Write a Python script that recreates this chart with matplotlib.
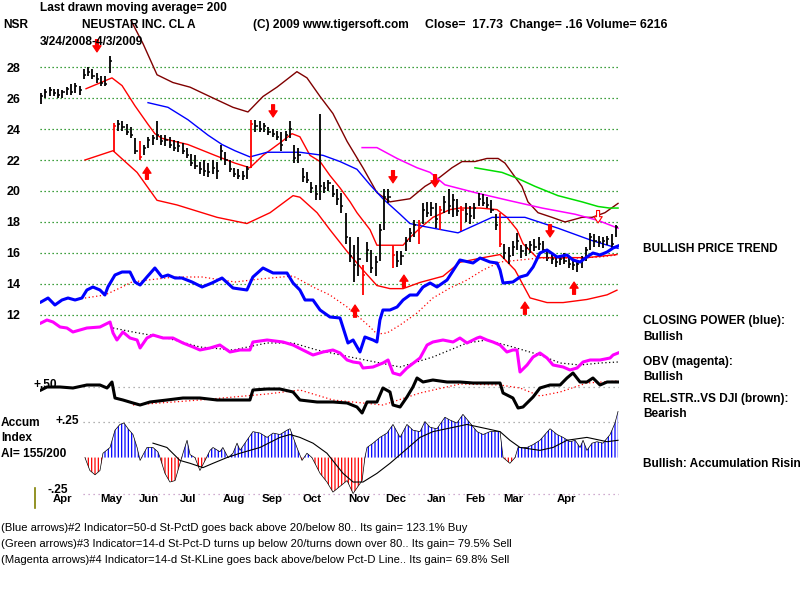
import matplotlib
matplotlib.use('Agg')
import matplotlib.pyplot as plt
import numpy as np
from matplotlib.lines import Line2D

plt.rcParams['font.family'] = ['Liberation Sans', 'DejaVu Sans']
plt.rcParams['hatch.linewidth'] = 0.9

# ---- price bars: one bar every second trading day starting 3/24/2008 ----
bar_day = list(range(0, 270, 2))
bar_high = [26.3, 26.6, 26.7, 26.6, 26.6, 26.5, 26.7, 26.9, 27.0, 26.8,
            27.9, 28.0, 27.9, 27.6, 27.4, 27.4, 28.7, 24.4, 24.6, 24.5,
            24.3, 24.1, 23.4, 23.2, 23.0, 23.5, 23.6, 24.5, 23.6, 23.6,
            23.5, 23.3, 23.2, 23.1, 22.8, 22.4, 22.3, 21.9, 22.0, 21.8,
            22.0, 21.9, 23.0, 22.5, 22.0, 21.5, 21.4, 21.3, 21.6, 24.6,
            24.6, 24.5, 24.4, 24.1, 24.0, 23.9, 23.8, 23.9, 24.5, 23.0,
            22.8, 21.5, 21.2, 20.6, 20.4, 25.0, 20.6, 20.7, 20.4, 20.1,
            19.9, 18.6, 17.0, 16.5, 17.0, 15.2, 16.7, 16.2, 15.8, 17.9,
            20.1, 20.1, 16.5, 16.1, 16.1, 17.0, 17.6, 18.1, 18.1, 19.2,
            19.3, 19.3, 19.2, 19.0, 19.7, 20.1, 19.8, 19.5, 19.0, 19.2,
            19.0, 19.2, 19.9, 19.8, 19.6, 19.4, 18.5, 18.6, 16.6, 16.4,
            16.8, 17.3, 16.5, 16.6, 16.8, 16.9, 17.0, 16.8, 16.2, 16.0,
            15.9, 15.9, 16.0, 15.8, 15.6, 15.5, 15.8, 16.4, 17.3, 17.2,
            17.1, 17.0, 17.1, 17.2, 17.8]
bar_low = [25.6, 26.0, 26.1, 26.1, 26.0, 26.0, 26.2, 26.2, 26.3, 26.2,
           27.2, 27.4, 27.2, 27.0, 26.8, 26.8, 27.6, 22.5, 23.9, 23.9,
           23.6, 23.4, 22.4, 22.0, 22.3, 22.8, 23.0, 23.3, 23.0, 22.9,
           22.8, 22.6, 22.5, 22.4, 22.1, 21.6, 21.4, 21.1, 21.0, 20.9,
           21.1, 20.8, 22.0, 21.7, 21.2, 20.9, 20.8, 20.7, 20.8, 21.5,
           23.8, 23.8, 23.8, 23.6, 23.5, 23.3, 22.6, 23.2, 23.4, 21.8,
           21.8, 20.6, 20.5, 19.9, 19.4, 19.4, 19.9, 20.0, 19.6, 19.1,
           18.6, 16.6, 15.4, 14.1, 14.5, 13.3, 15.4, 14.7, 14.5, 15.5,
           17.5, 19.2, 15.0, 15.1, 15.2, 16.1, 16.7, 17.0, 16.6, 17.9,
           18.3, 18.4, 17.6, 17.5, 18.6, 18.5, 18.3, 18.4, 17.4, 18.0,
           17.9, 18.2, 19.0, 19.0, 18.9, 18.6, 17.5, 16.4, 15.6, 15.3,
           15.8, 16.2, 15.7, 15.8, 16.0, 16.1, 16.2, 16.0, 15.5, 15.3,
           15.1, 15.2, 15.3, 15.0, 14.9, 14.8, 15.0, 15.5, 16.2, 16.4,
           16.4, 16.3, 16.5, 16.3, 17.0]
bar_close = [26.1, 26.4, 26.5, 26.3, 26.2, 26.4, 26.6, 26.4, 26.8, 26.5,
             27.5, 27.7, 27.4, 27.2, 27.0, 26.9, 28.4, 24.2, 24.3, 24.1,
             23.8, 23.6, 22.6, 22.2, 22.8, 23.3, 23.4, 23.6, 23.2, 23.3,
             23.0, 22.8, 22.9, 22.6, 22.3, 21.8, 21.6, 21.4, 21.3, 21.2,
             21.5, 21.3, 22.6, 22.0, 21.4, 21.1, 21.0, 21.0, 21.4, 24.3,
             24.2, 24.0, 24.2, 23.8, 23.7, 23.5, 23.0, 23.6, 24.0, 22.1,
             22.3, 20.9, 20.7, 20.2, 19.8, 20.3, 20.2, 20.5, 19.8, 19.5,
             19.0, 17.0, 15.8, 15.2, 15.6, 14.6, 16.2, 15.0, 15.4, 17.5,
             19.6, 19.6, 15.9, 15.5, 15.8, 16.8, 17.3, 17.8, 17.9, 18.8,
             18.6, 18.9, 18.2, 18.8, 19.3, 19.0, 19.4, 18.7, 18.8, 18.5,
             18.4, 18.9, 19.5, 19.2, 19.1, 18.8, 17.8, 16.6, 16.0, 15.8,
             16.4, 16.8, 16.1, 16.3, 16.5, 16.4, 16.6, 16.2, 15.7, 15.6,
             15.4, 15.6, 15.5, 15.3, 15.2, 15.3, 15.6, 16.2, 17.0, 16.8,
             16.7, 16.8, 16.9, 16.6, 17.7]
red_bar_days = [34, 46, 98, 150, 164, 176, 186, 196, 214]

# ---- price overlays ----
ma_day = [21.0, 33.1, 37.8, 43.8, 49.9, 53.1, 56.4, 68.5, 81.1, 90.4,
          97.4, 103.5, 111.4, 117.0, 120.7, 125.4, 130.1, 134.7, 139.4, 144.1,
          147.3, 153.4, 156.6, 162.7, 168.8, 172.0, 176.7, 182.7, 190.7, 195.3,
          204.7, 212.6, 217.2, 221.9, 224.7, 231.2, 240.6, 254.5, 268.5]
ma_val = [26.6, 27.3, 26.8, 25.5, 24.3, 23.7, 23.4, 23.0, 22.3, 21.8,
          21.5, 22.3, 23.1, 23.7, 23.5, 22.3, 21.9, 21.0, 20.2, 19.3,
          18.6, 17.5, 16.5, 16.5, 16.5, 17.0, 17.6, 18.3, 18.8, 18.9,
          18.9, 18.8, 18.3, 17.5, 16.6, 15.7, 15.7, 15.7, 15.9]
low_band_day = [20.5, 33.6, 44.8, 54.1, 63.4, 82.1, 96.0, 106.8, 117.5, 120.7,
                128.7, 134.7, 142.7, 150.1, 156.6, 162.7, 168.8, 176.7, 187.4, 195.3,
                206.1, 214.0, 221.0, 228.0, 235.9, 243.4, 254.5, 263.9, 268.5]
low_band_val = [22.0, 22.6, 21.2, 19.4, 19.1, 18.3, 17.9, 18.6, 19.7, 19.6,
                18.6, 17.5, 16.1, 14.9, 13.9, 13.7, 13.7, 14.1, 14.5, 15.4,
                15.7, 15.9, 14.9, 13.1, 12.8, 12.8, 13.0, 13.3, 13.6]
up_band_day = [42.0, 47.6, 54.1, 61.5, 69.5, 80.2, 89.5, 96.5, 103.5, 110.0,
               119.3, 124.0, 130.1, 136.1, 142.7, 150.1, 156.6, 162.7, 172.0, 179.0,
               185.1, 191.6, 196.3, 202.3, 207.9, 213.1, 216.3, 221.0, 224.2, 227.0,
               231.7, 238.2, 244.3, 252.2, 256.9, 262.9, 269.0]
up_band_val = [31.0, 29.5, 27.5, 27.0, 26.7, 26.0, 25.4, 25.1, 26.1, 26.7,
               27.7, 27.3, 26.1, 25.0, 23.2, 21.5, 19.9, 19.3, 19.5, 20.3,
               20.8, 21.5, 21.9, 21.9, 22.1, 22.1, 21.8, 20.9, 20.3, 19.3,
               18.6, 18.3, 18.0, 18.3, 18.3, 18.6, 19.2]
blue_ma_day = [49.9, 59.2, 68.5, 77.9, 84.4, 90.4, 97.4, 105.4, 120.7, 131.5,
               139.4, 147.3, 153.4, 159.4, 167.4, 172.0, 179.0, 194.4, 210.3, 225.6,
               241.0, 256.9, 269.0]
blue_ma_val = [25.7, 25.4, 24.6, 23.6, 23.0, 22.6, 22.2, 22.5, 22.5, 22.3,
               21.9, 21.4, 20.4, 19.5, 18.5, 17.9, 17.7, 17.3, 18.3, 18.3,
               17.6, 16.8, 16.3]
magenta_ma_day = [149.7, 156.6, 166.0, 175.3, 181.4, 188.3, 202.3, 217.7, 233.6, 249.0, 259.7, 269.0]
magenta_ma_val = [22.8, 22.8, 22.1, 21.5, 21.2, 20.4, 19.9, 19.4, 18.9, 18.5, 18.1, 17.6]
green_ma_day = [202.3, 214.9, 222.4, 230.3, 241.0, 252.2, 259.7, 265.0, 269.0]
green_ma_val = [21.5, 21.2, 20.8, 20.3, 19.7, 19.3, 19.0, 18.9, 18.9]

arrow_day = [26.1, 49.4, 108.2, 146.4, 164.1, 169.2, 183.7, 225.6, 237.3, 248.5, 259.7]
arrow_tip = [28.97, 21.55, 24.77, 12.65, 20.52, 14.58, 20.26, 12.84, 17.03, 14.13, 17.94]
arrow_dir = ['down', 'up', 'down', 'up', 'down', 'up', 'down', 'up', 'down', 'up', 'down']
hollow_arrows = [259.7]

# ---- closing power (blue) and its average ----
cp_day = [0, 3.3, 6.5, 9.8, 12.6, 15.9, 19.1, 21.4, 24.2, 27.5,
          29.8, 31.2, 34.5, 37.8, 41.5, 43.8, 46.2, 49.4, 53.1, 56.4,
          59.2, 62.5, 65.7, 70.4, 75.1, 79.7, 84.4, 89.5, 96.0, 98.8,
          103.5, 108.2, 114.7, 117.5, 120.7, 123.1, 126.8, 130.1, 134.7, 139.4,
          143.1, 145.5, 148.7, 151.0, 154.8, 156.6, 158.0, 159.4, 162.7, 166.0,
          168.8, 172.0, 175.3, 178.1, 181.4, 184.6, 189.3, 195.3, 201.4, 204.7,
          209.3, 212.6, 214.0, 215.4, 220.0, 223.3, 226.6, 229.4, 232.6, 235.9,
          240.6, 245.2, 248.0, 251.3, 254.5, 257.3, 260.6, 263.9, 266.7, 269.0]
cp_val = [58, 62, 55, 60, 62, 60, 62, 70, 73, 70,
          65, 73, 85, 88, 88, 78, 75, 83, 92, 83,
          85, 82, 82, 78, 73, 77, 82, 72, 70, 83,
          92, 87, 87, 77, 70, 60, 60, 50, 43, 42,
          17, 20, 8, 23, 20, 18, 40, 50, 50, 53,
          60, 65, 65, 73, 77, 73, 80, 100, 97, 102,
          98, 97, 90, 77, 78, 83, 85, 93, 107, 110,
          103, 105, 100, 98, 103, 107, 105, 108, 112, 114]
cp_ma_day = [20.5, 29.8, 37.8, 42.4, 49.9, 62.5, 75.1, 84.4, 90.4, 102.1,
             117.5, 126.8, 134.7, 142.7, 148.7, 153.4, 156.6, 161.3, 167.4, 175.3,
             182.7, 190.7, 198.6, 206.1, 214.0, 223.3, 232.6, 242.0, 251.3, 260.6, 268.5]
cp_ma_val = [62, 65, 73, 78, 80, 83, 83, 80, 78, 81,
             84, 73, 65, 53, 42, 33, 26, 27, 35, 47,
             62, 72, 80, 90, 98, 100, 102, 102, 102, 103, 105]

# ---- OBV (magenta) ----
obv_day = [0, 2.8, 5.6, 8.9, 12.1, 14.9, 21.4, 27.5, 32.2, 33.6,
           35.4, 38.2, 41.5, 44.8, 46.2, 49.4, 52.2, 56.9, 61.5, 66.2,
           70.9, 74.1, 78.8, 83.4, 88.1, 92.8, 97.4, 98.8, 105.4, 112.8,
           117.5, 122.1, 126.8, 131.5, 136.1, 139.4, 142.7, 145.5, 148.7, 150.1,
           154.8, 159.4, 161.8, 164.1, 167.4, 170.6, 176.7, 180.0, 182.7, 187.4,
           192.1, 195.3, 198.6, 203.3, 204.7, 207.9, 210.7, 214.0, 217.2, 220.0,
           221.9, 223.3, 226.6, 229.4, 232.6, 235.9, 238.7, 243.4, 246.6, 249.9,
           252.7, 256.0, 260.6, 265.3, 266.7, 269.0]
obv_val = [57, 60, 58, 53, 52, 48, 52, 53, 58, 47,
           40, 48, 42, 40, 32, 42, 45, 42, 42, 37,
           33, 30, 32, 35, 28, 30, 30, 38, 40, 38,
           35, 30, 25, 28, 30, 27, 20, 18, 17, 12,
           13, 17, 20, 7, 5, 12, 22, 35, 38, 40,
           38, 42, 37, 42, 43, 40, 38, 35, 28, 30,
           30, 8, 15, 23, 27, 22, 15, 13, 10, 12,
           18, 20, 20, 22, 25, 27]
obv_ma_day = [33.6, 42.9, 58.7, 74.1, 89.5, 105.4, 117.5, 128.7, 144.1, 167.4,
              182.7, 198.6, 207.9, 220.0, 232.6, 242.0, 251.3, 260.6, 269.0]
obv_ma_val = [52, 48, 42, 33, 30, 37, 37, 30, 23, 13,
              23, 37, 40, 33, 25, 17, 15, 17, 18]

# ---- relative strength vs DJI ----
rs_day = [0, 2.8, 8.9, 14.9, 21.4, 27.5, 30.8, 33.1, 34.5, 38.2,
          42.9, 46.2, 50.8, 58.7, 66.2, 74.1, 82.1, 89.5, 97.4, 98.8,
          105.4, 111.4, 117.5, 120.7, 128.7, 136.1, 142.7, 147.3, 149.7, 152.0,
          156.6, 159.4, 162.7, 164.1, 167.4, 170.6, 173.4, 175.3, 178.1, 182.7,
          189.3, 195.3, 201.4, 207.9, 214.0, 215.4, 220.0, 222.4, 224.7, 229.4,
          232.6, 237.3, 242.0, 245.2, 248.0, 251.3, 254.5, 257.3, 260.6, 263.9, 269.0]
rs_val = [0.47, 0.50, 0.50, 0.49, 0.52, 0.52, 0.49, 0.55, 0.39, 0.37,
          0.34, 0.32, 0.35, 0.37, 0.39, 0.39, 0.37, 0.37, 0.37, 0.47,
          0.48, 0.48, 0.45, 0.37, 0.35, 0.35, 0.34, 0.30, 0.24, 0.35,
          0.35, 0.49, 0.45, 0.32, 0.30, 0.40, 0.50, 0.59, 0.55, 0.57,
          0.55, 0.55, 0.54, 0.54, 0.54, 0.44, 0.39, 0.29, 0.30, 0.40,
          0.49, 0.52, 0.52, 0.59, 0.64, 0.55, 0.55, 0.59, 0.52, 0.55, 0.55]
rs_ma_day = [42.9, 74.1, 105.4, 120.7, 136.1, 159.4, 176.7, 195.3, 214.0, 223.3,
             232.6, 242.0, 254.5, 269.0]
rs_ma_val = [0.32, 0.37, 0.43, 0.47, 0.37, 0.32, 0.44, 0.53, 0.52, 0.49,
             0.41, 0.45, 0.54, 0.56]

# ---- accumulation index ----
ai_day = [20.5, 22.8, 25.2, 27.5, 28.9, 32.2, 34.5, 36.8, 38.7, 40.6,
          42.9, 44.8, 46.2, 47.6, 49.4, 52.2, 54.5, 55.5, 57.8, 60.1,
          62.5, 64.8, 66.2, 68.1, 69.5, 71.8, 74.1, 76.5, 78.8, 80.2,
          83.4, 84.8, 87.2, 89.5, 91.4, 92.8, 96.0, 98.8, 102.1, 105.4,
          108.2, 111.4, 114.7, 116.1, 119.3, 121.7, 124.0, 126.3, 127.7, 130.1,
          133.3, 136.1, 139.4, 142.7, 145.5, 147.8, 149.7, 151.0, 152.0, 154.8,
          158.0, 161.3, 164.1, 167.4, 170.6, 173.4, 176.7, 179.0, 181.4, 184.6,
          188.3, 190.7, 193.9, 196.7, 200.0, 203.3, 206.1, 209.3, 214.0, 215.4,
          218.6, 221.0, 222.4, 226.6, 229.4, 232.6, 237.3, 240.6, 243.4, 246.6,
          249.0, 251.3, 252.7, 254.5, 256.9, 259.2, 262.0, 265.3, 267.6, 269.0]
ai_val = [0.00, -0.09, -0.12, -0.09, 0.03, 0.07, 0.19, 0.23, 0.24, 0.20,
          0.16, 0.07, -0.02, 0.02, 0.07, 0.07, 0.04, 0.00, -0.11, -0.17,
          -0.16, -0.04, 0.03, 0.12, 0.02, 0.00, -0.09, -0.02, 0.05, 0.07,
          0.04, 0.07, 0.00, 0.03, 0.10, 0.05, 0.12, 0.18, 0.17, 0.14,
          0.17, 0.16, 0.19, 0.20, 0.07, -0.02, 0.03, 0.00, -0.04, -0.11,
          -0.17, -0.24, -0.20, -0.16, -0.25, -0.20, -0.16, 0.00, 0.07, 0.10,
          0.14, 0.17, 0.23, 0.14, 0.23, 0.19, 0.18, 0.25, 0.21, 0.20,
          0.28, 0.26, 0.24, 0.30, 0.24, 0.18, 0.16, 0.18, 0.18, 0.00,
          -0.04, 0.00, 0.07, 0.07, 0.09, 0.12, 0.20, 0.16, 0.14, 0.11,
          0.12, 0.07, 0.12, 0.05, 0.10, 0.11, 0.10, 0.16, 0.24, 0.32]
ai_ma_day = [52.2, 58.7, 64.8, 69.5, 75.5, 80.2, 86.7, 92.8, 102.1, 111.4,
             116.1, 120.7, 126.8, 133.3, 140.8, 145.5, 150.1, 156.6, 162.7, 167.4,
             176.7, 182.7, 198.6, 207.9, 214.0, 218.6, 223.3, 232.6, 238.7, 245.2,
             254.5, 263.9, 269.0]
ai_ma_val = [0.10, 0.07, -0.02, -0.04, -0.07, -0.04, 0.00, 0.03, 0.07, 0.14,
             0.16, 0.14, 0.10, 0.03, -0.11, -0.17, -0.17, -0.11, -0.04, 0.02,
             0.14, 0.18, 0.23, 0.20, 0.18, 0.12, 0.07, 0.05, 0.07, 0.12,
             0.14, 0.11, 0.12]

price_ticks = [12, 14, 16, 18, 20, 22, 24, 26, 28]
month_names = ['Apr', 'May', 'Jun', 'Jul', 'Aug', 'Sep', 'Oct', 'Nov', 'Dec', 'Jan', 'Feb', 'Mar', 'Apr']
month_day = [5.6, 27.5, 45.7, 64.8, 84.8, 103.0, 122.1, 143.1, 160.4, 180.0, 197.7, 215.4, 240.6]

fig = plt.figure(figsize=(8, 6), dpi=100)
fig.patch.set_facecolor('white')


def panel(top, bottom, ylim):
    # every panel shares the same day axis; top/bottom are pixel rows
    left, right = 39.9, 619.1
    ax = fig.add_axes([left / 800, 1 - bottom / 600, (right - left) / 800, (bottom - top) / 600])
    ax.set_xlim(-0.5, 269.5)
    ax.set_ylim(*ylim)
    ax.patch.set_alpha(0)
    for s in ax.spines.values():
        s.set_visible(False)
    ax.set_xticks([])
    ax.set_yticks([])
    return ax


def label(x, y, s, size=8.6, weight='bold', **kw):
    fig.text(x / 800, 1 - y / 600, s, fontsize=size, fontweight=weight, va='center', ha='left', **kw)


# price panel
ax = panel(10, 330, (11.03, 31.68))
for p in price_ticks:
    ax.axhline(p, color='#008000', lw=0.9, ls=(0, (1, 2.2)), zorder=0)
ax.set_yticks(price_ticks)
ax.set_yticklabels([str(p) for p in price_ticks], fontsize=9, fontweight='bold')
ax.tick_params(axis='y', length=0, pad=14)

ax.plot(up_band_day, up_band_val, color='#800000', lw=1.0)
ax.plot(low_band_day, low_band_val, color='#ff0000', lw=1.0)
ax.plot(ma_day, ma_val, color='#ff0000', lw=1.0)
ax.plot(blue_ma_day, blue_ma_val, color='#0000ff', lw=1.0)
ax.plot(magenta_ma_day, magenta_ma_val, color='#ff00ff', lw=1.1)
ax.plot(green_ma_day, green_ma_val, color='#00dd00', lw=1.1)

bar_colors = ['#ff0000' if d in red_bar_days else 'black' for d in bar_day]
ax.vlines(bar_day, bar_low, bar_high, colors=bar_colors, lw=1.3)
ax.hlines(bar_close, bar_day, np.array(bar_day) + 1.0, colors=bar_colors, lw=1.1)

for d, tip, way in zip(arrow_day, arrow_tip, arrow_dir):
    tail = tip + 0.8 if way == 'down' else tip - 0.8
    face = 'white' if d in hollow_arrows else 'red'
    ax.annotate('', xy=(d, tip), xytext=(d, tail),
                arrowprops=dict(arrowstyle='simple,head_length=0.45,head_width=0.6,tail_width=0.22',
                                fc=face, ec='red', lw=0.8, shrinkA=0, shrinkB=0, mutation_scale=10))

# closing power
ax_cp = panel(240, 360, (0, 120))
ax_cp.plot(cp_ma_day, cp_ma_val, color='#ff0000', lw=0.9, ls=(0, (1, 2)))
ax_cp.plot(cp_day, cp_val, color='#0000ff', lw=2.2)

# OBV
ax_obv = panel(300, 380, (0, 80))
ax_obv.plot(obv_ma_day, obv_ma_val, color='black', lw=0.9, ls=(0, (1, 2)))
ax_obv.plot(obv_day, obv_val, color='#ff00ff', lw=2.2)

# relative strength
ax_rs = panel(368, 420, (0.17, 0.69))
ax_rs.axhline(0.50, xmin=0.074, color='#999999', lw=0.9, ls=(0, (1, 3)), zorder=0)
ax_rs.plot(rs_ma_day, rs_ma_val, color='#ff0000', lw=0.9, ls=(0, (1, 2)))
ax_rs.plot(rs_day, rs_val, color='black', lw=2.2)

# accumulation index
ax_ai = panel(405, 497, (-0.274, 0.365))
ax_ai.axhline(0.25, xmin=0.074, color='#999999', lw=0.9, ls=(0, (1, 3)), zorder=0)
ax_ai.axhline(-0.25, xmin=0.074, color='#c090c0', lw=0.9, ls=(0, (1, 3)), zorder=0)
ai_d = np.array(ai_day)
ai_v = np.array(ai_val)
ax_ai.fill_between(ai_d, 0, ai_v, where=ai_v >= 0, interpolate=True, facecolor='none',
                   edgecolor='#0000ff', hatch='|||||', linewidth=0)
ax_ai.fill_between(ai_d, 0, ai_v, where=ai_v <= 0, interpolate=True, facecolor='none',
                   edgecolor='#ff0000', hatch='|||||', linewidth=0)
ax_ai.plot(ai_d, ai_v, color='black', lw=0.5)
ax_ai.plot(ai_ma_day, ai_ma_val, color='black', lw=0.8)
for name, d in zip(month_names, month_day):
    ax_ai.text(d, -0.022, name, transform=ax_ai.get_xaxis_transform(), fontsize=8.2,
               fontweight='bold', ha='left', va='center')

# header
label(40, 8, 'Last drawn moving average= 200')
label(3, 25, 'NSR')
label(82, 25, 'NEUSTAR INC. CL A')
label(253, 25, '(C) 2009 www.tigersoft.com')
label(425, 25, 'Close=  17.73  Change= .16 Volume= 6216', size=8.8)
label(40, 42, '3/24/2008-4/3/2009')

# right-hand notes
label(643, 249, 'BULLISH PRICE TREND')
label(643, 321, 'CLOSING POWER (blue):')
label(643, 337, 'Bullish')
label(643, 362, 'OBV (magenta):')
label(643, 377, 'Bullish')
label(643, 399, 'REL.STR..VS DJI (brown):')
label(643, 414, 'Bearish')
label(643, 464, 'Bullish: Accumulation Rising')

# left-hand notes
label(1, 423, 'Accum')
label(1, 438, 'Index')
label(1, 454, 'AI= 155/200')
label(33, 385, '+.50')
label(55, 421, '+.25')
label(48, 490, '-.25')
fig.add_artist(Line2D([35 / 800, 35 / 800], [1 - 488 / 600, 1 - 508 / 600], color='#808000', lw=1.2))

# footer
label(1, 528, '(Blue arrows)#2 Indicator=50-d St-PctD goes back above 20/below 80.. Its gain= 123.1% Buy',
      size=8.1, weight='normal')
label(1, 544, '(Green arrows)#3 Indicator=14-d St-Pct-D turns up below 20/turns down over 80.. Its gain= 79.5% Sell',
      size=8.1, weight='normal')
label(1, 560, '(Magenta arrows)#4 Indicator=14-d St-KLine goes back above/below Pct-D Line.. Its gain= 69.8% Sell',
      size=8.1, weight='normal')

fig.savefig('out.png', dpi=100, facecolor='white')
